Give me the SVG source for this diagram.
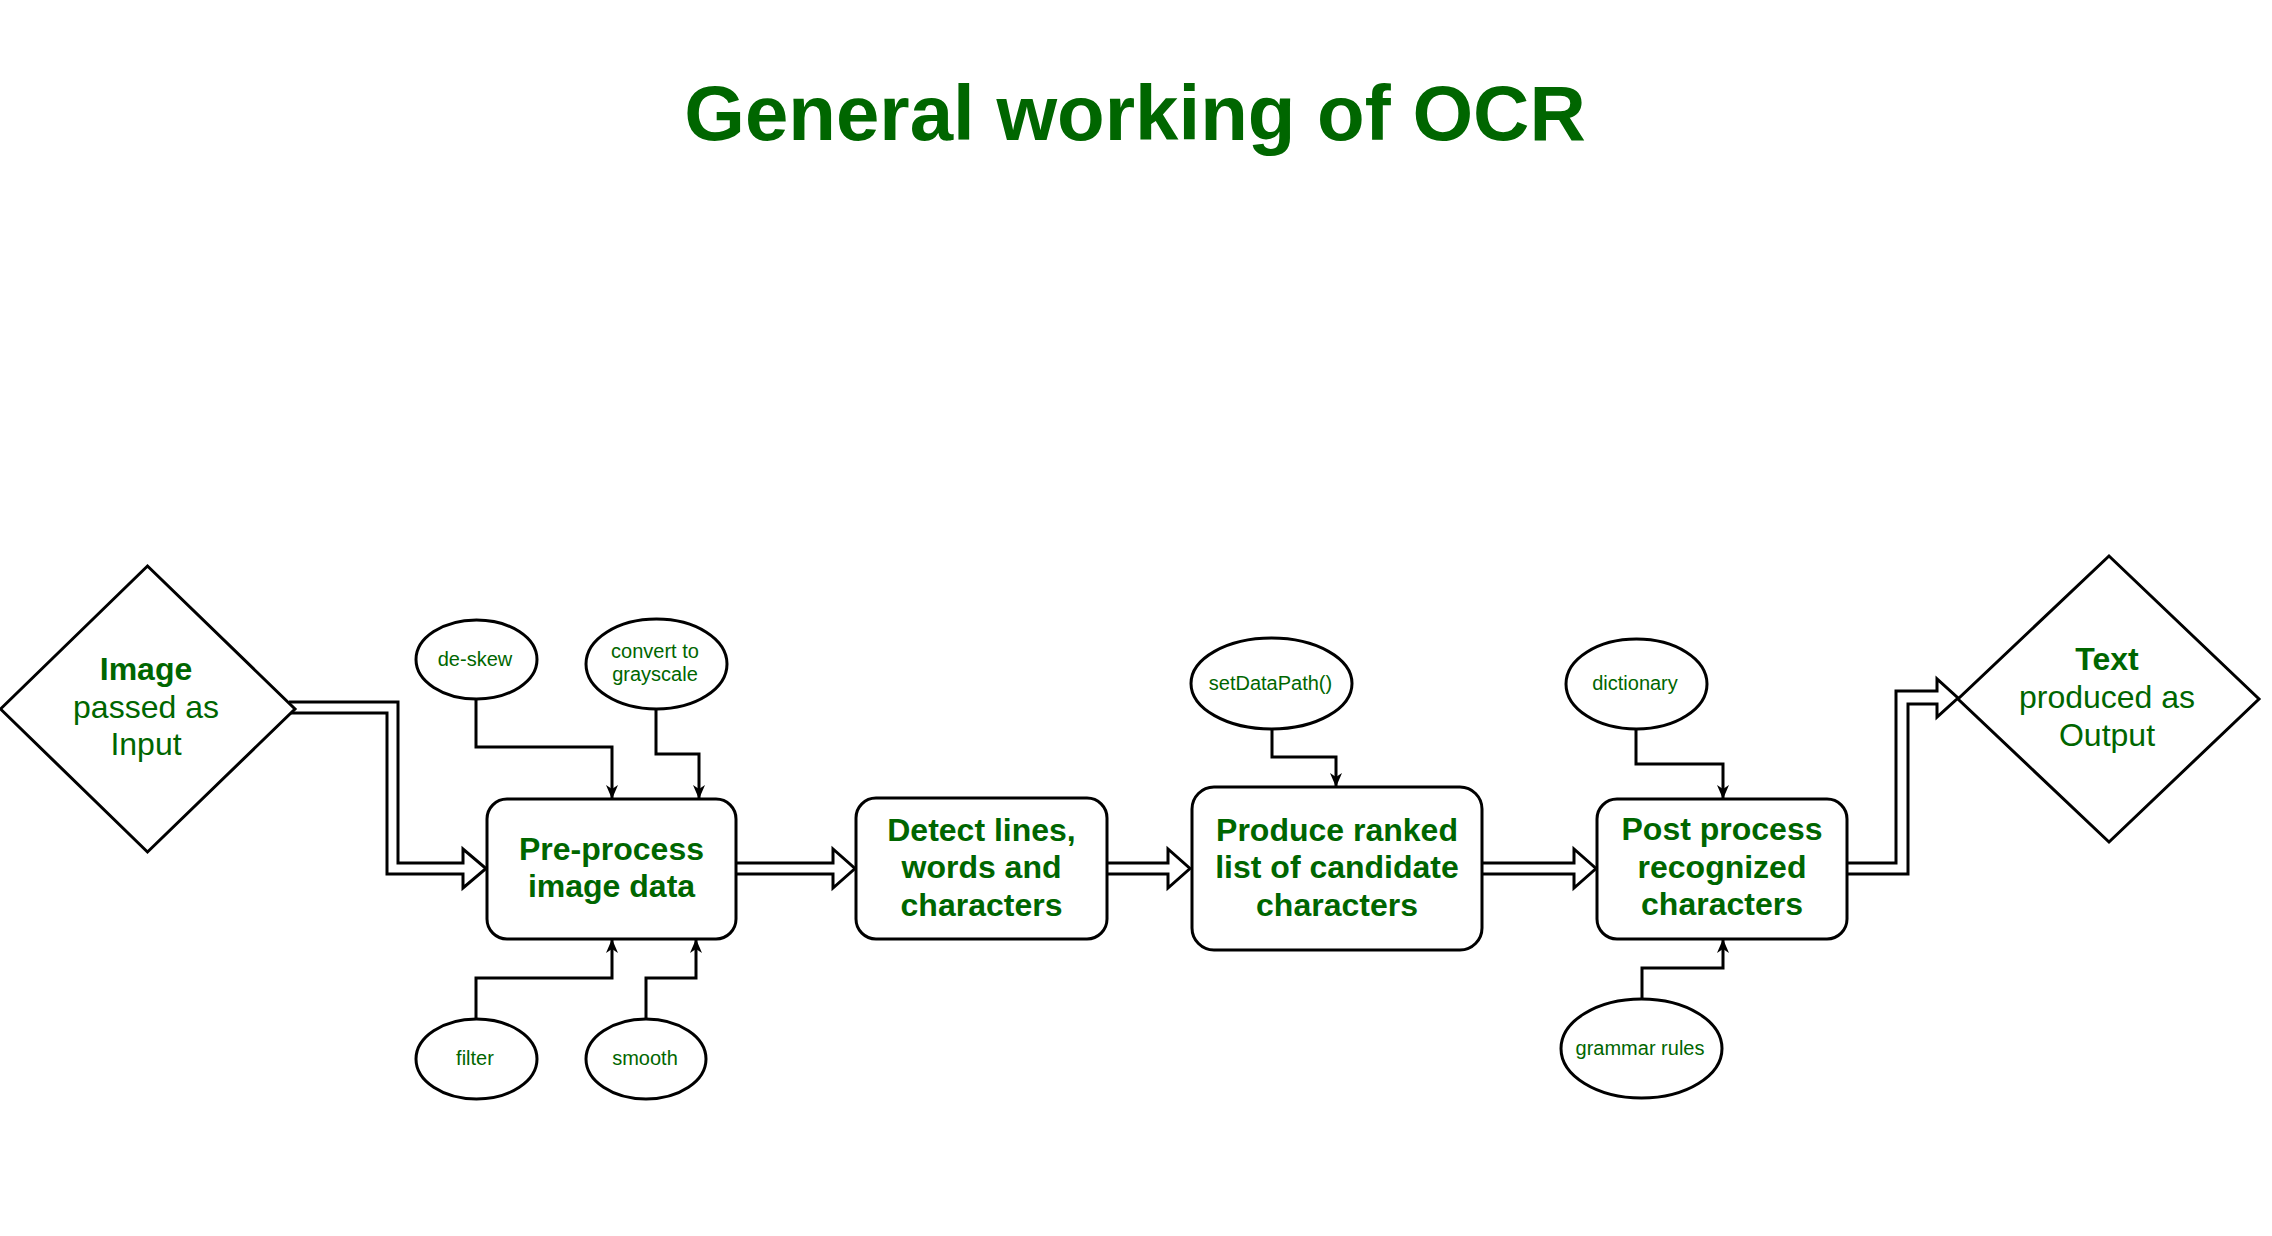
<svg xmlns="http://www.w3.org/2000/svg" width="2272" height="1236" viewBox="0 0 2272 1236">
<style>
.shape{fill:#fff;stroke:#000;stroke-width:3}
.flex{fill:#fff;stroke:#000;stroke-width:3;stroke-linejoin:miter}
.conn{fill:none;stroke:#000;stroke-width:3}
.t{font-family:"Liberation Sans",Arial,sans-serif;fill:#006600;text-anchor:middle}
.b{font-weight:bold;font-size:32px}
.r{font-size:32px}
.s{font-size:20px}
</style>
<defs>
<marker id="arr" viewBox="0 0 14 12" refX="13" refY="6" markerWidth="14" markerHeight="12" markerUnits="userSpaceOnUse" orient="auto">
<path d="M0,0 L14,6 L0,12 L4,6 z" fill="#000"/>
</marker>
</defs>
<rect width="2272" height="1236" fill="#fff"/>
<text class="t" x="1135" y="140" font-size="78" font-weight="bold">General working of OCR</text>

<g id="connectors">
<path class="flex" d="M289,702 L398,702 L398,863 L463,863 L463,849 L486,868.5 L463,888 L463,874 L387,874 L387,713 L290,713"/>
<path class="flex" d="M736,863 L833,863 L833,849 L855,868.5 L833,888 L833,874 L736,874"/>
<path class="flex" d="M1107,863 L1168,863 L1168,849 L1190,868.5 L1168,888 L1168,874 L1107,874"/>
<path class="flex" d="M1482,863 L1574,863 L1574,849 L1596,868.5 L1574,888 L1574,874 L1482,874"/>
<path class="flex" d="M1847,863 L1896,863 L1896,691 L1937,691 L1937,679 L1958,698 L1937,717 L1937,704 L1908,704 L1908,874 L1847,874"/>
<path class="conn" marker-end="url(#arr)" d="M476,699 L476,747 L612,747 L612,798"/>
<path class="conn" marker-end="url(#arr)" d="M656,709 L656,754 L699,754 L699,798"/>
<path class="conn" marker-end="url(#arr)" d="M476,1019 L476,978 L612,978 L612,940"/>
<path class="conn" marker-end="url(#arr)" d="M646,1019 L646,978 L696,978 L696,940"/>
<path class="conn" marker-end="url(#arr)" d="M1272,729 L1272,757 L1336,757 L1336,786"/>
<path class="conn" marker-end="url(#arr)" d="M1636,729 L1636,764 L1723,764 L1723,798"/>
<path class="conn" marker-end="url(#arr)" d="M1642,999 L1642,968 L1723,968 L1723,940"/>
</g>

<g id="input">
<polygon class="shape" points="147.5,566 295,709 147.5,852 0.5,709"/>
<text class="t b" x="146" y="680">Image</text>
<text class="t r" x="146" y="718">passed as</text>
<text class="t r" x="146" y="755">Input</text>
</g>

<g id="preprocess">
<rect class="shape" x="487" y="799" width="249" height="140" rx="20"/>
<text class="t b" x="611.5" y="860">Pre-process</text>
<text class="t b" x="611.5" y="897">image data</text>
</g>

<g id="detect">
<rect class="shape" x="856" y="798" width="251" height="141" rx="20"/>
<text class="t b" x="981.5" y="841">Detect lines,</text>
<text class="t b" x="981.5" y="878">words and</text>
<text class="t b" x="981.5" y="916">characters</text>
</g>

<g id="produce">
<rect class="shape" x="1192" y="787" width="290" height="163" rx="22"/>
<text class="t b" x="1337" y="841">Produce ranked</text>
<text class="t b" x="1337" y="878">list of candidate</text>
<text class="t b" x="1337" y="916">characters</text>
</g>

<g id="postprocess">
<rect class="shape" x="1597" y="799" width="250" height="140" rx="20"/>
<text class="t b" x="1722" y="840">Post process</text>
<text class="t b" x="1722" y="878">recognized</text>
<text class="t b" x="1722" y="915">characters</text>
</g>

<g id="output">
<polygon class="shape" points="2109,556 2259,699 2109,842 1958,699"/>
<text class="t b" x="2107" y="670">Text</text>
<text class="t r" x="2107" y="708">produced as</text>
<text class="t r" x="2107" y="746">Output</text>
</g>

<g id="deskew">
<ellipse class="shape" cx="476.5" cy="659.5" rx="60.5" ry="39.5"/>
<text class="t s" x="475" y="666">de-skew</text>
</g>

<g id="grayscale">
<ellipse class="shape" cx="656.5" cy="664" rx="70.5" ry="45"/>
<text class="t s" x="655" y="658">convert to</text>
<text class="t s" x="655" y="681">grayscale</text>
</g>

<g id="filter">
<ellipse class="shape" cx="476.5" cy="1059" rx="60.5" ry="40"/>
<text class="t s" x="475" y="1065">filter</text>
</g>

<g id="smooth">
<ellipse class="shape" cx="646" cy="1059" rx="60" ry="40"/>
<text class="t s" x="645" y="1065">smooth</text>
</g>

<g id="setdatapath">
<ellipse class="shape" cx="1271.5" cy="683.5" rx="80.5" ry="45.5"/>
<text class="t s" x="1270.5" y="690">setDataPath()</text>
</g>

<g id="dictionary">
<ellipse class="shape" cx="1636.5" cy="684" rx="70.5" ry="45"/>
<text class="t s" x="1635" y="690">dictionary</text>
</g>

<g id="grammar">
<ellipse class="shape" cx="1641.5" cy="1048.5" rx="80.5" ry="49.5"/>
<text class="t s" x="1640" y="1055">grammar rules</text>
</g>
</svg>
